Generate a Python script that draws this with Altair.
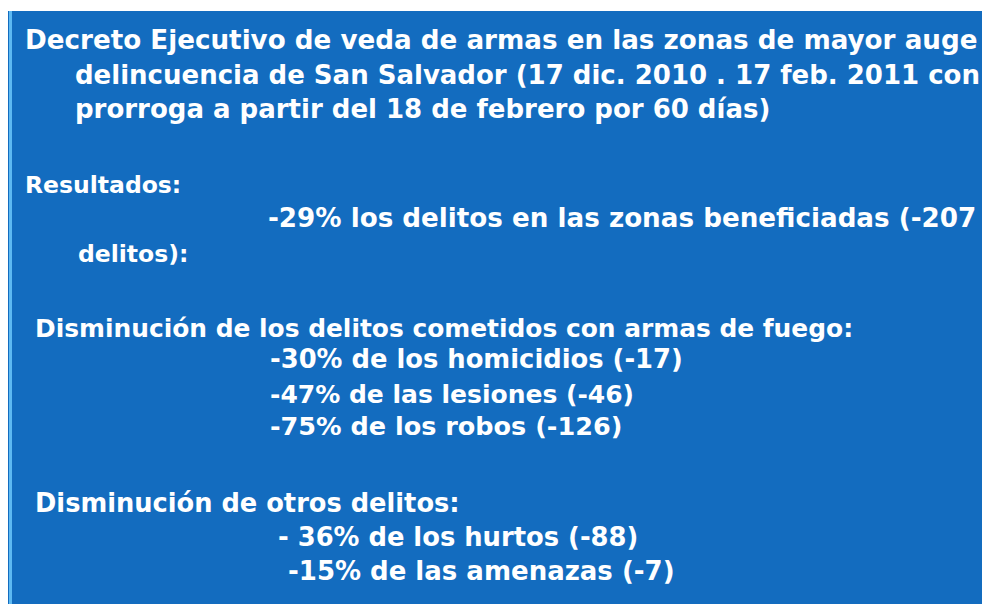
import altair as alt
import pandas as pd

# Slide text lines (content)
lines = [
    "Decreto  Ejecutivo  de veda de armas en las zonas de mayor auge",
    "delincuencia de San Salvador (17 dic. 2010 . 17 feb. 2011 con",
    "prorroga a partir del 18 de febrero por 60 días)",
    "Resultados:",
    "-29% los delitos en las zonas beneficiadas (-207",
    "delitos):",
    "Disminución de los delitos cometidos con armas de fuego:",
    "-30% de los homicidios (-17)",
    "-47% de las lesiones (-46)",
    "-75% de los robos (-126)",
    "Disminución de otros delitos:",
    "- 36% de los hurtos (-88)",
    "-15% de las amenazas (-7)",
]
# Layout (screen pixels): left edge, baseline, font size
line_x = [25, 75, 75, 25, 268, 78, 35, 270, 270, 270, 35, 278, 288]
line_y = [49, 84, 118, 193, 227, 262, 337, 368, 403, 435, 512, 546, 580]
line_size = [26.2, 26.0, 26.0, 23.5, 26.2, 23.5, 24.9, 25.8, 25.0, 25.5, 25.7, 25.8, 26.0]

df = pd.DataFrame({"text": lines, "x": line_x, "y": line_y, "size": line_size})

W, H = 974, 596
xs = alt.Scale(domain=[8, 8 + W], range=[0, W])
ys = alt.Scale(domain=[8, 8 + H], range=[0, H])

bg = pd.DataFrame({"x": [8], "x2": [8 + W], "y": [11], "y2": [8 + H]})
panel = alt.Chart(bg).mark_rect(color="#136CBF").encode(
    x=alt.X("x:Q", scale=xs, axis=None),
    x2="x2:Q",
    y=alt.Y("y:Q", scale=ys, axis=None),
    y2="y2:Q",
)
edge = pd.DataFrame({"x": [9], "x2": [12], "y": [11], "y2": [8 + H]})
border = alt.Chart(edge).mark_rect(color="#5DB9F2").encode(
    x=alt.X("x:Q", scale=xs, axis=None),
    x2="x2:Q",
    y=alt.Y("y:Q", scale=ys, axis=None),
    y2="y2:Q",
)

text = alt.Chart(df).mark_text(
    align="left", baseline="alphabetic", color="white",
    font="DejaVu Sans", fontWeight="bold",
).encode(
    x=alt.X("x:Q", scale=xs, axis=None),
    y=alt.Y("y:Q", scale=ys, axis=None),
    text="text:N",
    size=alt.Size("size:Q", scale=None, legend=None),
)

chart = (panel + border + text).properties(
    width=W, height=H, background="white", padding=0,
    autosize=alt.AutoSizeParams(type="none"),
).configure_view(stroke=None)

chart.save("out.html", embed_options={"renderer": "svg", "actions": False})
